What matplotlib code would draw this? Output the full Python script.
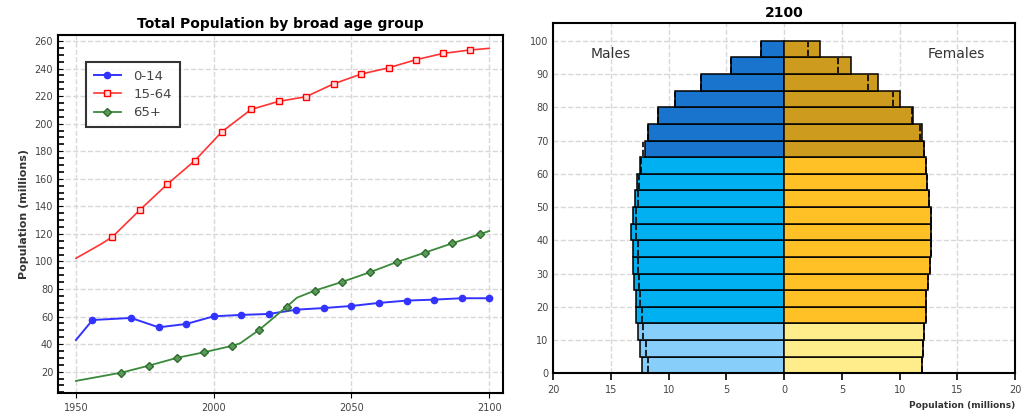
import numpy as np
import matplotlib.pyplot as plt
from matplotlib.ticker import MultipleLocator, FuncFormatter

# left panel: total population by broad age group (millions)
yr_014 = [1950, 1956, 1970, 1980, 1990, 2000, 2010, 2020, 2030, 2040, 2050, 2060, 2070, 2080, 2090, 2100]
pop_014 = [43, 57.5, 59, 52.2, 54.6, 60.2, 61.2, 61.9, 65, 66.2, 67.7, 69.9, 71.6, 72.3, 73.3, 73.3]

yr_1564 = [1950, 1959, 1963.2, 1973.2, 1983.1, 1993.1, 2003, 2013.6, 2023.6, 2033.5, 2043.6,
           2053.5, 2063.5, 2073.3, 2083.2, 2093, 2100]
pop_1564 = [102.3, 112.5, 117.8, 137.4, 156, 173.1, 194.2, 210.4, 216.2, 219.6, 229,
            236, 240.6, 246.4, 251, 253.5, 254.7]

yr_65 = [1950, 1966.5, 1976.5, 1986.6, 1996.5, 2006.6, 2009.6, 2016.6, 2026.5, 2030.2, 2036.6,
         2046.5, 2056.6, 2066.5, 2076.6, 2086.6, 2096.5, 2100]
pop_65 = [13.3, 19.3, 24.4, 30, 34.1, 38.7, 40.6, 50.5, 67.2, 73.7, 78.8,
          85.1, 92.1, 99.6, 106.4, 113.2, 119.7, 122.1]

# right panel: 2100 pyramid, age groups 0-4 ... 95-99 (millions)
ages = np.arange(0, 100, 5)
males = [12.35, 12.5, 12.65, 12.8, 12.8, 13.0, 13.1, 13.1, 13.3, 13.1,
         12.95, 12.75, 12.5, 12.05, 11.8, 10.95, 9.5, 7.2, 4.6, 2.0]
females = [11.9, 12.0, 12.15, 12.3, 12.3, 12.45, 12.6, 12.7, 12.7, 12.7,
           12.55, 12.4, 12.3, 12.1, 11.9, 11.15, 10.0, 8.1, 5.75, 3.06]
males_ref = [11.8, 12.0, 12.2, 12.3, 12.45, 12.6, 12.7, 12.7, 12.8, 12.8,
             12.7, 12.6, 12.4, 12.2, 11.8, 10.95, 9.5, 7.2, 4.6, 2.0]
females_ref = [11.9, 12.0, 12.15, 12.3, 12.3, 12.45, 12.6, 12.7, 12.7, 12.7,
               12.55, 12.4, 12.3, 12.1, 11.76, 11.05, 9.4, 7.25, 4.65, 2.05]

fig = plt.figure(figsize=(10.22, 4.19), dpi=100)

# ---- left panel
ax1 = fig.add_axes([0.0568, 0.062, 0.4354, 0.8545])
ax1.plot(yr_014, pop_014, color='#3333ff', lw=1.4, marker='o', ms=4.5,
         mfc='#3333ff', mec='#3333ff', markevery=list(range(1, len(yr_014))), label='0-14')
ax1.plot(yr_1564, pop_1564, color='#ff3333', lw=1.2, marker='s', ms=4.5,
         mfc='#ffdddd', mec='#ff0000', markevery=list(range(2, len(yr_1564) - 1)), label='15-64')
ax1.plot(yr_65, pop_65, color='#3a8a3a', lw=1.3, marker='D', ms=4.5,
         mfc='#5a9a5a', mec='#2e6b2e', markevery=[1, 2, 3, 4, 5, 7, 8, 10, 11, 12, 13, 14, 15, 16],
         label='65+')
ax1.set_xlim(1943.5, 2105)
ax1.set_ylim(4.5, 264.4)
ax1.set_xticks([1950, 2000, 2050, 2100])
ax1.yaxis.set_minor_locator(MultipleLocator(5))
ax1.set_yticks(np.arange(20, 261, 20))
ax1.tick_params(axis='y', which='both', direction='in', labelsize=7, labelcolor='#444444')
ax1.tick_params(axis='y', which='minor', length=4, width=1.2)
ax1.tick_params(axis='x', labelsize=7, labelcolor='#444444')
ax1.grid(True, color='#d8d8d8', ls='--', lw=1)
for s in ax1.spines.values():
    s.set_linewidth(1.5)
ax1.set_title('Total Population by broad age group', fontsize=10, fontweight='bold', pad=5)
ax1.set_ylabel('Population (millions)', fontsize=8, fontweight='bold', color='#333333')
leg = ax1.legend(loc='upper left', bbox_to_anchor=(0.062, 0.925), borderaxespad=0, fontsize=9.5,
                 frameon=True, fancybox=False, handlelength=2.1, handletextpad=0.9,
                 borderpad=0.6, labelspacing=0.4)
leg.get_frame().set_edgecolor('black')
leg.get_frame().set_linewidth(1.5)
for t in leg.get_texts():
    t.set_color('#444444')

# ---- right panel
ax2 = fig.add_axes([0.5414, 0.109, 0.4518, 0.835])
m_cols = ['#87cefa' if a < 15 else ('#00b0f0' if a < 65 else '#1874cd') for a in ages]
f_cols = ['#ffec8b' if a < 15 else ('#ffc125' if a < 65 else '#cd9b1d') for a in ages]
ax2.barh(ages, [-v for v in males], height=5, align='edge', color=m_cols, edgecolor='black', lw=1.1, zorder=2)
ax2.barh(ages, females, height=5, align='edge', color=f_cols, edgecolor='black', lw=1.1, zorder=2)
ax2.vlines([-v for v in males_ref], ages + 0.3, ages + 4.7, colors='black', linestyles='--', lw=1.2, zorder=3)
ax2.vlines(females_ref, ages + 0.3, ages + 4.7, colors='black', linestyles='--', lw=1.2, zorder=3)
ax2.set_xlim(-20, 20)
ax2.set_ylim(0, 105.2)
ax2.set_xticks(np.arange(-20, 21, 5))
ax2.xaxis.set_major_formatter(FuncFormatter(lambda v, p: '%d' % abs(v)))
ax2.set_yticks(np.arange(0, 101, 10))
ax2.tick_params(axis='x', labelsize=7, labelcolor='#444444', length=5, width=1.2)
ax2.tick_params(axis='y', labelsize=7, labelcolor='#444444', length=0)
ax2.grid(True, color='#d8d8d8', ls='--', lw=1, zorder=0)
ax2.set_axisbelow(True)
for s in ax2.spines.values():
    s.set_linewidth(1.5)
ax2.set_title('2100', fontsize=10, fontweight='bold', pad=5)
ax2.text(-15, 96, 'Males', fontsize=10, ha='center', va='center', color='#333333')
ax2.text(14.9, 96, 'Females', fontsize=10, ha='center', va='center', color='#333333')
ax2.set_xlabel('Population (millions)', fontsize=6.5, fontweight='bold', color='#333333')
ax2.xaxis.set_label_coords(1.0, -0.08)
ax2.xaxis.label.set_ha('right')

fig.savefig('out.png', dpi=100)
